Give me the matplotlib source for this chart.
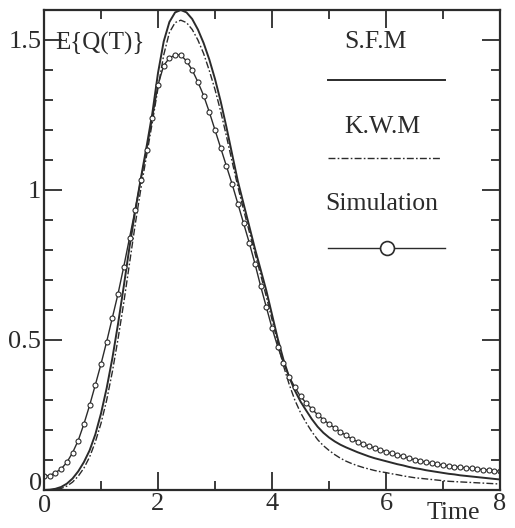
import numpy as np
import matplotlib
matplotlib.use('Agg')
import matplotlib.pyplot as plt
import matplotlib.transforms as mtransforms
from matplotlib.lines import Line2D
from matplotlib.ticker import MultipleLocator

plt.rcParams['font.family'] = ['Liberation Serif', 'DejaVu Serif']

# ---------------- data ----------------
time = np.round(np.arange(0, 8.001, 0.1), 1)

sim = [0.047, 0.048, 0.058, 0.070, 0.092, 0.124, 0.165, 0.220, 0.282, 0.350,
       0.420, 0.495, 0.575, 0.655, 0.745, 0.840, 0.935, 1.035, 1.135, 1.240,
       1.350, 1.415, 1.440, 1.450, 1.450, 1.430, 1.400, 1.360, 1.315, 1.260,
       1.200, 1.140, 1.080, 1.020, 0.955, 0.890, 0.825, 0.755, 0.680, 0.610,
       0.540, 0.478, 0.425, 0.378, 0.343, 0.312, 0.290, 0.270, 0.251, 0.235,
       0.220, 0.207, 0.194, 0.182, 0.170, 0.161, 0.153, 0.146, 0.140, 0.134,
       0.128, 0.122, 0.117, 0.112, 0.106, 0.101, 0.097, 0.093, 0.089, 0.086,
       0.083, 0.080, 0.078, 0.076, 0.074, 0.072, 0.070, 0.068, 0.066, 0.064,
       0.062]

sfm = [0.000, 0.001, 0.004, 0.010, 0.021, 0.038, 0.062, 0.093, 0.132, 0.185,
       0.255, 0.340, 0.440, 0.555, 0.680, 0.810, 0.930, 1.040, 1.145, 1.255,
       1.390, 1.495, 1.560, 1.592, 1.600, 1.592, 1.570, 1.535, 1.490, 1.435,
       1.370, 1.295, 1.210, 1.120, 1.030, 0.955, 0.880, 0.805, 0.735, 0.665,
       0.585, 0.505, 0.435, 0.377, 0.332, 0.295, 0.265, 0.236, 0.211, 0.191,
       0.175, 0.162, 0.151, 0.142, 0.134, 0.126, 0.119, 0.112, 0.106, 0.101,
       0.096, 0.091, 0.086, 0.082, 0.077, 0.073, 0.070, 0.066, 0.063, 0.060,
       0.057, 0.054, 0.052, 0.049, 0.047, 0.045, 0.043, 0.041, 0.039, 0.037,
       0.035]

kwm = [0.000, 0.000, 0.002, 0.005, 0.013, 0.026, 0.046, 0.073, 0.110, 0.160,
       0.222, 0.300, 0.395, 0.505, 0.625, 0.755, 0.885, 1.005, 1.115, 1.225,
       1.340, 1.450, 1.525, 1.558, 1.566, 1.558, 1.535, 1.500, 1.455, 1.398,
       1.335, 1.262, 1.180, 1.095, 1.012, 0.935, 0.862, 0.790, 0.718, 0.645,
       0.568, 0.490, 0.415, 0.353, 0.300, 0.258, 0.224, 0.194, 0.168, 0.148,
       0.132, 0.118, 0.106, 0.096, 0.088, 0.081, 0.075, 0.070, 0.065, 0.061,
       0.058, 0.054, 0.051, 0.047, 0.044, 0.041, 0.039, 0.037, 0.035, 0.033,
       0.031, 0.029, 0.028, 0.027, 0.026, 0.025, 0.024, 0.023, 0.022, 0.021,
       0.020]

xticks = [0, 2, 4, 6, 8]
xticklabels = ['0', '2', '4', '6', '8']
yticks = [0, 0.5, 1, 1.5]
yticklabels = ['0', '0.5', '1', '1.5']

# ---------------- figure ----------------
ink = '#2b2b2b'
fig = plt.figure(figsize=(5.15, 5.28), dpi=100)
ax = fig.add_axes([44/515, 38/528, 456/515, 480/528])

ax.plot(time, sfm, color=ink, lw=1.4, solid_capstyle='round')
ax.plot(time, kwm, color=ink, lw=1.0, dashes=(5, 1.6, 1.2, 1.6))
ax.plot(time, sim, color=ink, lw=1.0, marker='o', ms=3.6, mfc='white',
        mec=ink, mew=0.8)

ax.set_xlim(0, 8)
ax.set_ylim(0, 1.6)
ax.set_xticks(xticks)
ax.set_xticklabels(xticklabels)
ax.set_yticks(yticks)
ax.set_yticklabels(yticklabels)
ax.xaxis.set_minor_locator(MultipleLocator(1))
ax.yaxis.set_minor_locator(MultipleLocator(0.1))
ax.tick_params(which='both', direction='in', top=True, right=True,
               color=ink, width=1.3, labelsize=19, labelcolor=ink)
ax.tick_params(which='major', length=13, pad=2)
ax.tick_params(which='minor', length=6.5)
for s in ax.spines.values():
    s.set_linewidth(1.6)
    s.set_color(ink)

# nudge the two '0' labels apart as in the original
fig.canvas.draw()
ylab0 = ax.get_yticklabels()[0]
ylab0.set_transform(ylab0.get_transform() +
                    mtransforms.ScaledTranslation(1/100, 8/100, fig.dpi_scale_trans))
xlab0 = ax.get_xticklabels()[0]
xlab0.set_transform(xlab0.get_transform() +
                    mtransforms.ScaledTranslation(1/100, -2/100, fig.dpi_scale_trans))

# axis titles
ax.text(0.024, 0.931, 'E{Q(T)}', transform=ax.transAxes, fontsize=18,
        ha='left', va='center', color=ink)
fig.text(453/515, (528-513)/528, 'Time', fontsize=18.5, ha='center',
         va='center', color=ink)

# legend (label above sample line)
ax.text(0.726, 0.933, 'S.F.M', transform=ax.transAxes, fontsize=18.5,
        ha='center', va='center', color=ink)
ax.add_line(Line2D([0.623, 0.879], [0.854, 0.854], transform=ax.transAxes,
                   color=ink, lw=1.4))
ax.text(0.741, 0.756, 'K.W.M', transform=ax.transAxes, fontsize=18.5,
        ha='center', va='center', color=ink)
ax.add_line(Line2D([0.623, 0.868], [0.692, 0.692], transform=ax.transAxes,
                   color=ink, lw=1.0, dashes=(5, 1.6, 1.2, 1.6)))
ax.text(0.741, 0.596, 'Simulation', transform=ax.transAxes, fontsize=18.5,
        ha='center', va='center', color=ink)
ax.add_line(Line2D([0.623, 0.879], [0.504, 0.504], transform=ax.transAxes,
                   color=ink, lw=1.0))
ax.add_line(Line2D([0.752], [0.504], transform=ax.transAxes, marker='o',
                   ms=10, mfc='white', mec=ink, mew=1.2, ls='none'))

fig.savefig('out.png', dpi=100)
